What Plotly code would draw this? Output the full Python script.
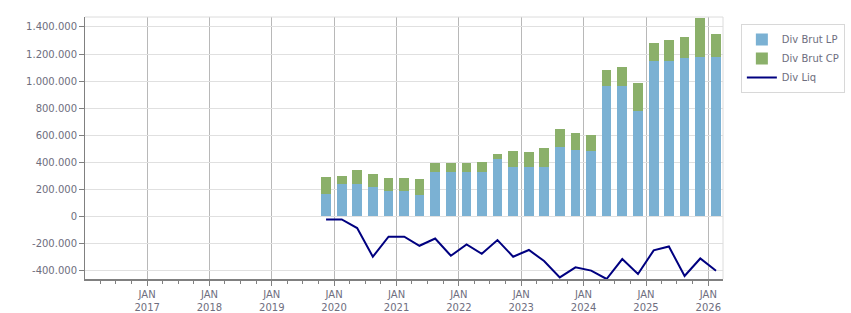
import plotly.graph_objects as go

dates = [
    "2019-11-15", "2020-02-15", "2020-05-15", "2020-08-15",
    "2020-11-15", "2021-02-15", "2021-05-15", "2021-08-15",
    "2021-11-15", "2022-02-15", "2022-05-15", "2022-08-15",
    "2022-11-15", "2023-02-15", "2023-05-15", "2023-08-15",
    "2023-11-15", "2024-02-15", "2024-05-15", "2024-08-15",
    "2024-11-15", "2025-02-15", "2025-05-15", "2025-08-15",
    "2025-11-15", "2026-02-15",
]
div_brut_lp = [167000, 241000, 241000, 217000, 187000, 187000, 158000, 330000,
               330000, 330000, 330000, 424000, 365000, 365000, 365000, 513000,
               490000, 483000, 964000, 964000, 779000, 1149000, 1149000, 1173000,
               1178000, 1178000]
div_brut_cp = [124000, 56000, 101000, 96000, 96000, 96000, 118000, 64000,
               64000, 64000, 72000, 37000, 119000, 111000, 140000, 133000,
               127000, 120000, 118000, 140000, 206000, 131000, 155000, 153000,
               289000, 170000]
div_liq = [-25000, -25000, -89000, -301000, -153000, -153000, -220000, -166000,
           -294000, -210000, -279000, -178000, -301000, -251000, -333000, -454000,
           -380000, -404000, -466000, -318000, -429000, -254000, -225000, -444000,
           -314000, -405000]

year_ticks = ["2017-01-01", "2018-01-01", "2019-01-01", "2020-01-01", "2021-01-01",
              "2022-01-01", "2023-01-01", "2024-01-01", "2025-01-01", "2026-01-01"]
year_labels = ["JAN<br>2017", "JAN<br>2018", "JAN<br>2019", "JAN<br>2020", "JAN<br>2021",
               "JAN<br>2022", "JAN<br>2023", "JAN<br>2024", "JAN<br>2025", "JAN<br>2026"]
y_ticks = [-400000, -200000, 0, 200000, 400000, 600000, 800000, 1000000, 1200000, 1400000]
y_labels = ["-400.000", "-200.000", "0", "200.000", "400.000", "600.000", "800.000",
            "1.000.000", "1.200.000", "1.400.000"]

TXT = "#6e6e7e"
bar_w = 56.8 * 86400000

fig = go.Figure()
fig.add_trace(go.Bar(x=dates, y=div_brut_lp, name="Div Brut LP", marker_color="#7bb1d3",
                     marker_line_width=0, width=bar_w))
fig.add_trace(go.Bar(x=dates, y=div_brut_cp, name="Div Brut CP", marker_color="#8bb06a",
                     marker_line_width=0, width=bar_w))
fig.add_trace(go.Scatter(x=dates, y=div_liq, name="Div Liq", mode="lines",
                         line=dict(color="#000080", width=2)))

fig.update_layout(
    width=851, height=313,
    barmode="stack",
    plot_bgcolor="white", paper_bgcolor="white",
    margin=dict(l=85, r=128, t=17, b=34, autoexpand=False),
    font=dict(family="DejaVu Sans", size=10, color=TXT),
    legend=dict(x=1.028, y=0.973, xanchor="left", yanchor="top",
                traceorder="normal",
                bordercolor="#d8d8d8", borderwidth=1, bgcolor="white",
                font=dict(size=10, color=TXT), tracegroupgap=0,
                itemwidth=30),
    showlegend=True,
)
fig.update_xaxes(
    type="date",
    automargin=False,
    range=["2016-01-03", "2026-03-28"],
    tickvals=year_ticks, ticktext=year_labels,
    showgrid=True, gridcolor="#b8b8b8", gridwidth=1,
    ticks="outside", ticklen=5, tickcolor="#808080",
    showline=True, linecolor="#808080", linewidth=2,
    minor=dict(ticks="outside", ticklen=3, dtick="M3", tick0="2016-01-01",
               tickcolor="#808080", showgrid=False),
    zeroline=False,
    tickfont=dict(size=10, color=TXT),
)
fig.update_yaxes(
    automargin=False,
    range=[-466000, 1474000],
    tickvals=y_ticks, ticktext=y_labels,
    showgrid=True, gridcolor="#e0e0e0", gridwidth=1,
    ticks="outside", ticklen=5, tickcolor="#808080",
    showline=True, linecolor="#808080", linewidth=1,
    zeroline=False,
    tickfont=dict(size=10, color=TXT),
)
fig.add_shape(type="line", xref="paper", yref="paper", x0=0, x1=1, y0=1, y1=1,
              line=dict(color="#dcdcdc", width=1))
fig.add_shape(type="line", xref="paper", yref="paper", x0=1, x1=1, y0=0, y1=1,
              line=dict(color="#dcdcdc", width=1))

fig.write_html("out.html")
